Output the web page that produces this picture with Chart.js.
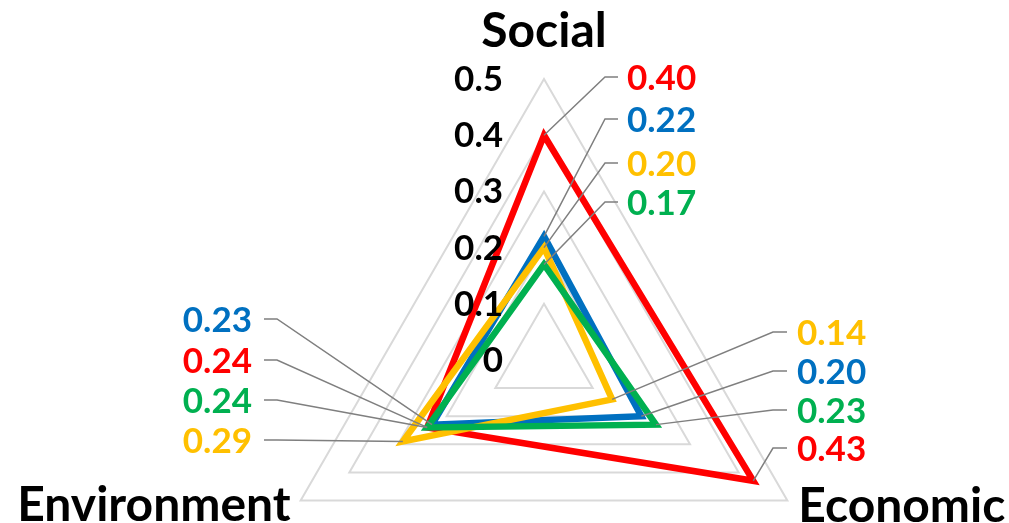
<!DOCTYPE html>
<html>
<head>
<meta charset="utf-8">
<script src="https://cdn.jsdelivr.net/npm/chart.js@4.4.1/dist/chart.umd.min.js"></script>
<style>
  html, body { margin: 0; padding: 0; background: #fff; overflow: hidden; }
  #wrap { width: 1009px; height: 523px; position: relative; }
</style>
</head>
<body>
<div id="wrap"><canvas id="radarChart"></canvas></div>
<script>
const axisTitles = ["Social", "Economic", "Environment"];
const tickValues = [0, 0.1, 0.2, 0.3, 0.4, 0.5];
const tickLabels = ["0", "0.1", "0.2", "0.3", "0.4", "0.5"];

const redValues = [0.40, 0.43, 0.24];
const blueValues = [0.22, 0.20, 0.23];
const yellowValues = [0.20, 0.14, 0.29];
const greenValues = [0.17, 0.23, 0.24];

const FONT = "Lato, 'Open Sans', sans-serif";

/* series, bottom layer first */
const series = [
  { label: "Series 1", values: redValues, color: "#FF0000" },
  { label: "Series 2", values: blueValues, color: "#0070C0" },
  { label: "Series 3", values: yellowValues, color: "#FFC000" },
  { label: "Series 4", values: greenValues, color: "#00B050" },
];

/* where the value labels sit next to each axis (baselines of the label rows) */
const labelLayout = [
  { textX: 627, align: "left", kneeX: 605, endX: 618, rows: [90, 132, 176, 215], descending: true },
  { textX: 797, align: "left", kneeX: 773, endX: 787, rows: [345, 384, 423, 461], descending: false },
  { textX: 252, align: "right", kneeX: 277, endX: 264, rows: [332, 373, 413, 453], descending: false },
];

/* --------------------------------------- */
/* value labels, leader lines, axis text   */
/* --------------------------------------- */

const radarText = {
  id: "radarText",
  afterDatasetsDraw(chart) {
    const ctx = chart.ctx;
    const scale = chart.scales.r;
    const n = series.length;

    ctx.save();

    labelLayout.forEach((spec, i) => {
      const items = series.map((s, k) => ({
        value: s.values[i],
        color: s.color,
        point: chart.getDatasetMeta(n - 1 - k).data[i],
      }));
      items.sort((a, b) => (spec.descending ? b.value - a.value : a.value - b.value));

      items.forEach((item, r) => {
        const base = spec.rows[r];
        const ky = base - 13;

        ctx.beginPath();
        ctx.moveTo(item.point.x, item.point.y);
        ctx.lineTo(spec.kneeX, ky);
        ctx.lineTo(spec.endX, ky);
        ctx.strokeStyle = "#7F7F7F";
        ctx.lineWidth = 1.5;
        ctx.stroke();

        ctx.font = "bold 35px " + FONT;
        ctx.textAlign = spec.align;
        ctx.textBaseline = "alphabetic";
        ctx.fillStyle = item.color;
        ctx.fillText(item.value.toFixed(2), spec.textX, base);
      });
    });

    // tick labels, left of the vertical axis
    ctx.font = "bold 35px " + FONT;
    ctx.fillStyle = "#000";
    ctx.textAlign = "right";
    ctx.textBaseline = "alphabetic";
    tickValues.forEach((v, i) => {
      const y = scale.yCenter - scale.getDistanceFromCenterForValue(v);
      ctx.fillText(tickLabels[i], scale.xCenter - 41, y + 12);
    });

    // axis titles at the three vertices
    ctx.font = "bold 48px " + FONT;
    const top = scale.getPointPosition(0, scale.drawingArea);
    const right = scale.getPointPosition(1, scale.drawingArea);
    const left = scale.getPointPosition(2, scale.drawingArea);

    ctx.textAlign = "center";
    ctx.fillText(axisTitles[0], top.x, top.y - 32);
    ctx.textAlign = "left";
    ctx.fillText(axisTitles[1], right.x + 11, right.y + 21);
    ctx.textAlign = "right";
    ctx.fillText(axisTitles[2], left.x - 10, left.y + 20);

    ctx.restore();
  },
};

/* ------------------------------- */
/* RADAR CHART                     */
/* ------------------------------- */

const canvas = document.getElementById("radarChart");

new Chart(canvas.getContext("2d"), {
  type: "radar",

  data: {
    labels: axisTitles,
    datasets: series
      .slice()
      .reverse()
      .map((s) => ({
        label: s.label,
        data: s.values,
        borderColor: s.color,
        backgroundColor: s.color,
        borderWidth: 6.5,
        borderJoinStyle: "miter",
        fill: false,
        pointRadius: 0,
        pointHoverRadius: 0,
      })),
  },

  options: {
    responsive: true,
    maintainAspectRatio: false,
    animation: false,

    plugins: {
      legend: { display: false },
      tooltip: { enabled: false },
    },

    scales: {
      r: {
        min: 0,
        max: 0.5,
        ticks: { display: false, stepSize: 0.1 },
        grid: { color: "#D9D9D9", lineWidth: 2 },
        angleLines: { display: false },
        pointLabels: { display: false },
        afterFit(scale) {
          scale.xCenter = 544;
          scale.yCenter = 360;
          scale.drawingArea = 281;
        },
      },
    },
  },

  plugins: [radarText],
});
</script>
</body>
</html>
